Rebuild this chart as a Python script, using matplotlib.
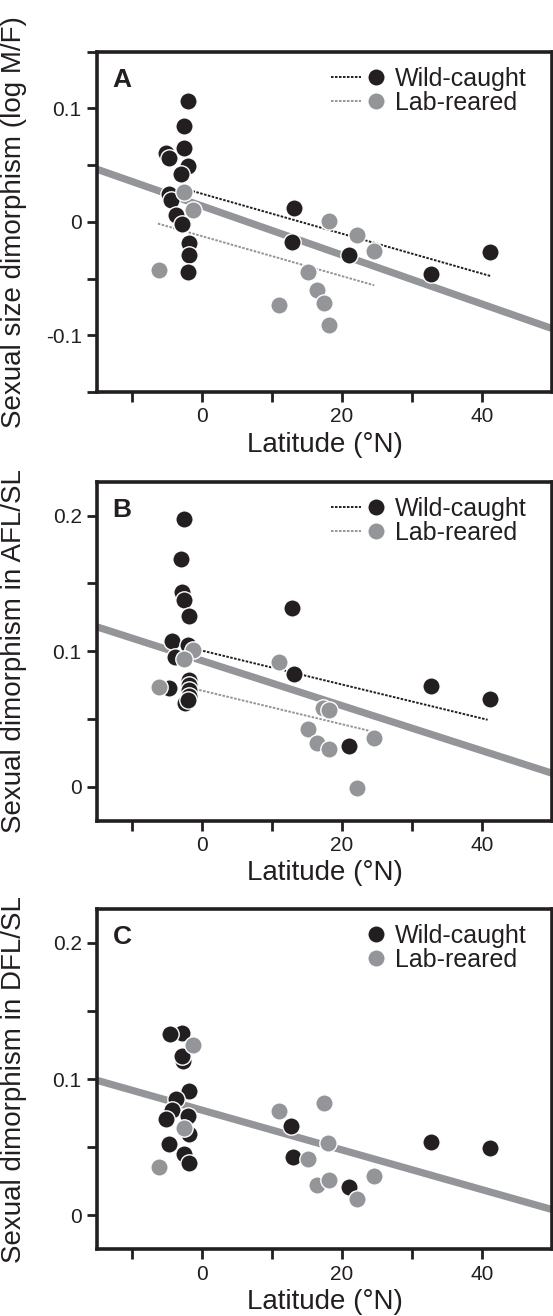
import matplotlib
matplotlib.use('Agg')
import numpy as np
import matplotlib.pyplot as plt
from matplotlib.lines import Line2D
from matplotlib.legend_handler import HandlerTuple

plt.rcParams['font.family'] = ['Liberation Sans', 'DejaVu Sans']

BLACK = '#231f20'
GRAY = '#939598'

# ---- panel A: sexual size dimorphism (log M/F)
a_wild_lat = [-2.0, -2.5, -2.5, -5.1, -4.7, -2.0, -3.0, -4.7, -4.4, -3.7, -2.8, -1.9, -1.9, -2.0,
              13.2, 12.8, 21.0, 32.7, 41.1]
a_wild_val = [0.1065, 0.0844, 0.0647, 0.0603, 0.0565, 0.049, 0.0426, 0.025, 0.019, 0.0065, -0.0018,
              -0.0185, -0.029, -0.0444, 0.012, -0.0176, -0.029, -0.0459, -0.0265]
a_lab_lat = [-2.5, -1.3, -6.2, 11.0, 15.1, 16.4, 17.4, 18.2, 18.1, 22.2, 24.6]
a_lab_val = [0.0265, 0.0109, -0.0426, -0.0732, -0.0438, -0.0597, -0.0715, -0.0912, 0.0012, -0.0115, -0.0256]
a_all_fit = [0.014, -0.00216]            # intercept, slope
a_wild_fit = [0.0248, -0.00176]
a_wild_range = [-1.9, 41.2]
a_lab_fit = [-0.0126, -0.00176]
a_lab_range = [-6.3, 24.6]

# ---- panel B: dimorphism in AFL/SL
b_wild_lat = [-2.5, -3.0, -2.8, -2.6, -1.9, -4.3, -2.0, -3.8, -4.7, -1.9, -1.9, -1.9, -1.9, -2.4, -2.0,
              12.8, 13.2, 21.0, 32.7, 41.1]
b_wild_val = [0.1975, 0.168, 0.1436, 0.138, 0.1256, 0.1075, 0.1043, 0.0957, 0.0731, 0.079, 0.0748,
              0.0712, 0.0667, 0.0621, 0.0638, 0.132, 0.083, 0.0302, 0.0741, 0.065]
b_lab_lat = [-1.3, -2.5, -6.2, 11.0, 17.3, 18.2, 15.1, 16.4, 18.1, 24.5, 22.2]
b_lab_val = [0.1006, 0.094, 0.0736, 0.092, 0.058, 0.0569, 0.0427, 0.0324, 0.0275, 0.0356, -0.0012]
b_all_fit = [0.093, -0.00166]
b_wild_fit = [0.1004, -0.00125]
b_wild_range = [-0.95, 40.8]
b_lab_fit = [0.0709, -0.00124]
b_lab_range = [-0.95, 24.2]

# ---- panel C: dimorphism in DFL/SL
c_wild_lat = [-2.9, -4.6, -2.7, -2.8, -1.9, -3.7, -4.3, -5.2, -2.0, -1.9, -4.7, -2.6, -1.9,
              12.7, 13.0, 21.0, 32.7, 41.1]
c_wild_val = [0.134, 0.1328, 0.1132, 0.1169, 0.0912, 0.0851, 0.077, 0.0709, 0.0729, 0.0599, 0.0521,
              0.0447, 0.0386, 0.0655, 0.0428, 0.0208, 0.0538, 0.0496]
c_lab_lat = [-1.3, -2.5, -6.2, 11.0, 17.4, 18.0, 15.1, 16.4, 18.2, 24.5, 22.2]
c_lab_val = [0.1254, 0.0643, 0.0355, 0.0765, 0.0826, 0.0528, 0.0416, 0.022, 0.0259, 0.0289, 0.0117]
c_all_fit = [0.0772, -0.00146]

x_ticks = [-10, 0, 10, 20, 30, 40]
x_ticklabels = ['', '0', '', '20', '', '40']

panels = [
    dict(letter='A', ylabel='Sexual size dimorphism (log M/F)', ylim=(-0.15, 0.15),
         yticks=[-0.15, -0.1, -0.05, 0, 0.05, 0.1, 0.15], yticklabels=['', '-0.1', '', '0', '', '0.1', ''],
         wild=(a_wild_lat, a_wild_val), lab=(a_lab_lat, a_lab_val), fit=a_all_fit,
         wfit=a_wild_fit, wrange=a_wild_range, lfit=a_lab_fit, lrange=a_lab_range,
         rect=[0.1754, 0.7021, 0.8228, 0.2586]),
    dict(letter='B', ylabel='Sexual dimorphism in AFL/SL', ylim=(-0.025, 0.225),
         yticks=[0, 0.05, 0.1, 0.15, 0.2], yticklabels=['0', '', '0.1', '', '0.2'],
         wild=(b_wild_lat, b_wild_val), lab=(b_lab_lat, b_lab_val), fit=b_all_fit,
         wfit=b_wild_fit, wrange=b_wild_range, lfit=b_lab_fit, lrange=b_lab_range,
         rect=[0.1754, 0.3764, 0.8228, 0.2576]),
    dict(letter='C', ylabel='Sexual dimorphism in DFL/SL', ylim=(-0.025, 0.225),
         yticks=[0, 0.05, 0.1, 0.15, 0.2], yticklabels=['0', '', '0.1', '', '0.2'],
         wild=(c_wild_lat, c_wild_val), lab=(c_lab_lat, c_lab_val), fit=c_all_fit,
         wfit=None, wrange=None, lfit=None, lrange=None,
         rect=[0.1754, 0.0507, 0.8228, 0.2586]),
]

fig = plt.figure(figsize=(5.53, 13.16), dpi=100)
xlim = (-15, 50)
ms = 12.5

for p in panels:
    ax = fig.add_axes(p['rect'])
    xs = np.array(xlim)
    ax.plot(xs, p['fit'][0] + p['fit'][1] * xs, color=GRAY, lw=5.2, solid_capstyle='butt', zorder=1)
    dash = (1.3, 0.75)
    if p['wfit'] is not None:
        xw = np.array(p['wrange'])
        ax.plot(xw, p['wfit'][0] + p['wfit'][1] * xw, color=BLACK, lw=1.4, dashes=dash, zorder=2)
        xl = np.array(p['lrange'])
        ax.plot(xl, p['lfit'][0] + p['lfit'][1] * xl, color=GRAY, lw=1.4, dashes=dash, zorder=2)
    ax.plot(p['wild'][0], p['wild'][1], ls='none', marker='o', ms=ms, mfc=BLACK, mec='white',
            mew=1.0, zorder=3)
    ax.plot(p['lab'][0], p['lab'][1], ls='none', marker='o', ms=ms, mfc=GRAY, mec='white',
            mew=1.0, zorder=4)

    ax.set_xlim(xlim)
    ax.set_ylim(p['ylim'])
    ax.set_xticks(x_ticks)
    ax.set_xticklabels(x_ticklabels)
    ax.set_yticks(p['yticks'])
    ax.set_yticklabels(p['yticklabels'])
    ax.tick_params(direction='out', length=7, width=2, color=BLACK, labelsize=15,
                   labelcolor=BLACK, pad=4)
    for s in ax.spines.values():
        s.set_linewidth(2.6)
        s.set_color(BLACK)
    ax.set_xlabel('Latitude (°N)', fontsize=20, color=BLACK, labelpad=4)
    ax.set_ylabel(p['ylabel'], fontsize=20, color=BLACK)
    ax.yaxis.set_label_coords(-0.154, 0.5)

    ax.text(0.034, 0.952, p['letter'], transform=ax.transAxes, fontsize=19, fontweight='bold',
            ha='left', va='top', color=BLACK)

    mk_w = Line2D([], [], ls='none', marker='o', ms=ms, mfc=BLACK, mec='white', mew=1.0)
    mk_l = Line2D([], [], ls='none', marker='o', ms=ms, mfc=GRAY, mec='white', mew=1.0)
    if p['wfit'] is not None:
        ln_w = Line2D([], [], color=BLACK, lw=1.4, dashes=dash)
        ln_l = Line2D([], [], color=GRAY, lw=1.4, dashes=dash)
        ax.legend([(ln_w, mk_w), (ln_l, mk_l)], ['Wild-caught', 'Lab-reared'],
                  handler_map={tuple: HandlerTuple(ndivide=2, pad=0)},
                  loc='upper right', bbox_to_anchor=(0.945, 0.956), frameon=False,
                  fontsize=18, handlelength=2.4, handletextpad=0.15, labelspacing=0.0,
                  borderpad=0, borderaxespad=0, labelcolor=BLACK)
    else:
        ax.legend([mk_w, mk_l], ['Wild-caught', 'Lab-reared'], numpoints=1,
                  loc='upper right', bbox_to_anchor=(0.945, 0.956), frameon=False,
                  fontsize=18, handlelength=0.8, handletextpad=0.36, labelspacing=0.0,
                  borderpad=0, borderaxespad=0, labelcolor=BLACK)

plt.savefig('out.png', dpi=100)
